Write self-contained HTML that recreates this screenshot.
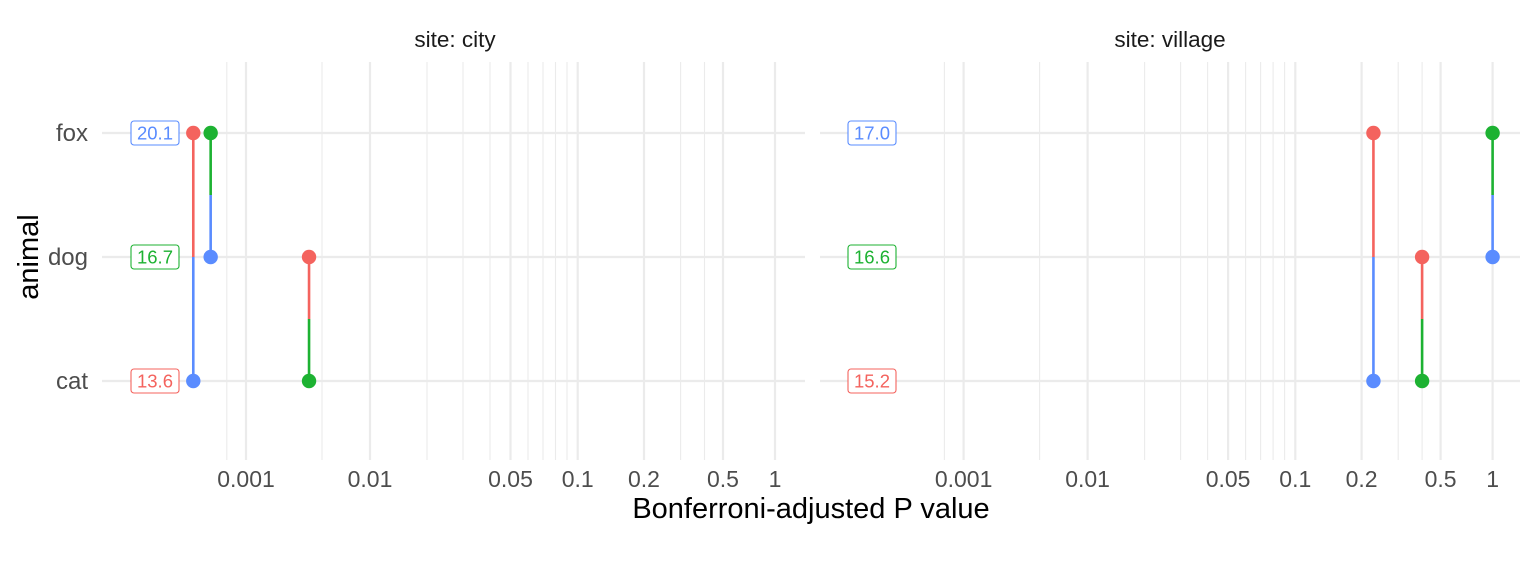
<!DOCTYPE html>
<html><head><meta charset="utf-8"><style>
body{margin:0;background:#fff;font-family:"Liberation Sans",Arial,sans-serif}
svg text{font-family:"Liberation Sans",Arial,sans-serif}
</style></head><body>
<svg id="chart" width="1536" height="576" viewBox="0 0 1536 576"></svg>
<script>
const panels = ["city","village"];
const animals = ["cat","dog","fox"];
const majorTicks = [0.001,0.01,0.05,0.1,0.2,0.5,1];
const tickLabels = ["0.001","0.01","0.05","0.1","0.2","0.5","1"];
const minorTicks = [0.0005,0.005,0.02,0.03,0.04,0.06,0.07,0.08,0.09,0.3,0.4];
const ptPanel =  ["city","city","city","city","city","city","village","village","village","village","village","village"];
const ptAnimal = ["fox","fox","dog","dog","cat","cat","fox","fox","dog","dog","cat","cat"];
const ptSeries = ["red","green","blue","red","blue","green","red","green","blue","red","blue","green"];
const ptP = [0.00015,0.00028,0.00028,0.0038,0.00015,0.0038,0.228,1,1,0.4,0.228,0.4];
const segA = [0,1,3,6,7,9];
const segB = [4,2,5,10,8,11];
const labPanel = ["city","city","city","village","village","village"];
const labAnimal = ["fox","dog","cat","fox","dog","cat"];
const labText = ["20.1","16.7","13.6","17.0","16.6","15.2"];
const labSeries = ["blue","green","red","blue","green","red"];

const colors = {red:"#F4635E",green:"#1DB232",blue:"#5A8CFF"};
const calP = [0.0001,0.0005,0.001,0.005,0.01,0.02,0.03,0.04,0.05,0.06,0.07,0.08,0.09,0.1,0.2,0.3,0.4,0.5,1];
const calX = [182,226.8,246,322,370,427,463,490,510.5,528,543,555.5,567,577.7,644,680.6,704.5,723,775];
const panelOffset = {city:0, village:717.6};
const panelRange = {city:[102,805], village:[820,1520]};
function xScale(panel,p){
  const l=Math.log10(p);
  let i=0; while(i<calP.length-2 && l>Math.log10(calP[i+1])) i++;
  const l0=Math.log10(calP[i]), l1=Math.log10(calP[i+1]);
  return panelOffset[panel]+calX[i]+(l-l0)/(l1-l0)*(calX[i+1]-calX[i]);
}
const yPos = {cat:381,dog:257,fox:133};
function yScale(a){return yPos[a];}
const svg=document.getElementById('chart');
const NS="http://www.w3.org/2000/svg";
function mk(tag,attrs,parent){const e=document.createElementNS(NS,tag);for(const k in attrs)e.setAttribute(k,attrs[k]);(parent||svg).appendChild(e);return e;}

panels.forEach(pn=>{
  const g=mk('g',{});
  
  
  const [x0,x1]=panelRange[pn];
  minorTicks.forEach(t=>{const x=xScale(pn,t);const l=mk('line',{x1:x,x2:x,y1:62,y2:460,stroke:'#EBEBEB','stroke-width':1.1},g);
    
    });
  majorTicks.forEach((t,i)=>{const x=xScale(pn,t);const l=mk('line',{x1:x,x2:x,y1:62,y2:460,stroke:'#EBEBEB','stroke-width':2.2},g);
    
    
    const tx=mk('text',{x:x,y:487,'text-anchor':'middle','font-size':23,fill:'#4D4D4D'},g);tx.textContent=tickLabels[i];
    
    });
  animals.forEach(a=>{const y=yScale(a);const l=mk('line',{x1:x0,x2:x1,y1:y,y2:y,stroke:'#EBEBEB','stroke-width':2.2},g);
    
    });
  const st=mk('text',{x:pn==='city'?455:1170,y:47,'text-anchor':'middle','font-size':22.5,fill:'#1A1A1A'},g);
  st.textContent='site: '+pn;
  
  
});
segA.forEach((a,i)=>{const b=segB[i];
  const xa=xScale(ptPanel[a],ptP[a]), ya=yScale(ptAnimal[a]);
  const xb=xScale(ptPanel[b],ptP[b]), yb=yScale(ptAnimal[b]);
  const xm=(xa+xb)/2, ym=(ya+yb)/2;
  const s1=mk('line',{x1:xa,y1:ya,x2:xm,y2:ym,stroke:colors[ptSeries[a]],'stroke-width':2.6});
  
  
  const s2=mk('line',{x1:xm,y1:ym,x2:xb,y2:yb,stroke:colors[ptSeries[b]],'stroke-width':2.6});
  
  
});
ptP.forEach((p,i)=>{const c=mk('circle',{cx:xScale(ptPanel[i],p),cy:yScale(ptAnimal[i]),r:7.2,fill:colors[ptSeries[i]]});
  
  });
labText.forEach((t,i)=>{const x=labPanel[i]==='village'?872:155;const y=yScale(labAnimal[i]);
  const g=mk('g',{});
  
  
  mk('rect',{x:x-24,y:y-12,width:48,height:24,rx:3,fill:'#fff',stroke:colors[labSeries[i]],'stroke-width':1.1},g);
  const tx=mk('text',{x:x,y:y+6.5,'text-anchor':'middle','font-size':18.5,fill:colors[labSeries[i]]},g);tx.textContent=t;});
animals.forEach(a=>{const tx=mk('text',{x:88,y:yScale(a)+8,'text-anchor':'end','font-size':24,fill:'#4D4D4D'});tx.textContent=a;
  
  });
const yt=mk('text',{x:0,y:0,transform:'translate(38,257) rotate(-90)','text-anchor':'middle','font-size':29,fill:'#000'});yt.textContent='animal';


const xt=mk('text',{x:811,y:518,'text-anchor':'middle','font-size':29,fill:'#000'});xt.textContent='Bonferroni-adjusted P value';


</script>
</body></html>
